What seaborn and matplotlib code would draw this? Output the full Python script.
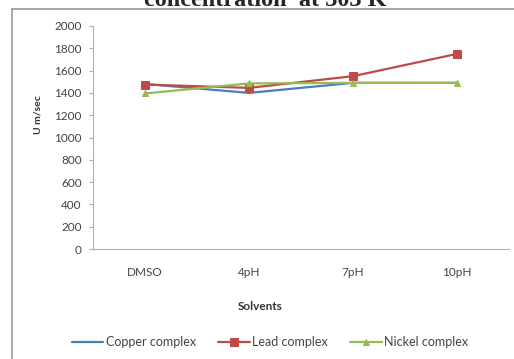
import matplotlib
matplotlib.use("Agg")
import matplotlib.pyplot as plt
from matplotlib.lines import Line2D
import seaborn as sns
import pandas as pd

solvents = ["DMSO", "4pH", "7pH", "10pH"]
copper = [1480, 1400, 1490, 1490]
lead = [1475, 1445, 1550, 1750]
nickel = [1395, 1485, 1490, 1490]
series_names = ["Copper complex", "Lead complex", "Nickel complex"]
yticks = [0, 200, 400, 600, 800, 1000, 1200, 1400, 1600, 1800, 2000]

sns.set_style("white")
plt.rcParams["font.family"] = ["Lato", "DejaVu Sans"]

W, H = 514, 359
fig = plt.figure(figsize=(W / 100, H / 100), dpi=100)
ax = fig.add_axes([93 / W, 1 - 249 / H, 416 / W, 223 / H])

styles = [
    ("#4a7ebb", None, 0),
    ("#be4b48", "s", 5.5),
    ("#98b954", "^", 4),
]
for name, values, (color, marker, msize) in zip(series_names, [copper, lead, nickel], styles):
    d = pd.DataFrame({"Solvents": solvents, "U": values})
    sns.lineplot(data=d, x="Solvents", y="U", color=color, marker=marker,
                 markersize=msize, markeredgecolor=color, linewidth=1.6,
                 ax=ax, sort=False, label=name)

ax.set_xlim(-0.5, 3.5)
ax.set_ylim(0, 2000)
ax.set_yticks(yticks)
ax.set_yticklabels([str(v) for v in yticks], fontsize=8.5, color="#444444")
ax.set_xticks(range(len(solvents)))
ax.set_xticklabels(solvents, fontsize=8.5, color="#444444")
ax.set_xticks([0.5, 1.5, 2.5, 3.5], minor=True)
ax.tick_params(axis="x", which="major", length=0, pad=13)
ax.tick_params(axis="x", which="minor", length=3, color="#b0b0b0", direction="out")
ax.tick_params(axis="y", length=3, color="#b0b0b0", direction="out", pad=5, left=True)
for side in ["top", "right"]:
    ax.spines[side].set_visible(False)
for side in ["left", "bottom"]:
    ax.spines[side].set_color("#b0b0b0")
    ax.spines[side].set_linewidth(0.8)

ax.set_xlabel("Solvents", fontsize=8.5, fontweight="bold", color="#333333")
ax.set_ylabel("U m/sec", fontsize=7.5, fontweight="bold", color="#333333")
ax.xaxis.set_label_coords(260 / W, 1 - 307 / H, transform=fig.transFigure)
ax.xaxis.label.set_va("center")
ax.yaxis.set_label_coords(38 / W, 1 - 115 / H, transform=fig.transFigure)
ax.yaxis.label.set_va("center")

handles, labels = ax.get_legend_handles_labels()
ax.legend(handles, labels, loc="center", bbox_to_anchor=(270 / W, 1 - 342 / H),
          bbox_transform=fig.transFigure, ncol=3, frameon=False, fontsize=9,
          handlelength=2.5, handletextpad=0.2, columnspacing=1.8, labelcolor="#444444")

# Outer chart frame (top and left edges; the rest runs off the canvas)
frame_x, frame_y = 12 / W, 1 - 8.5 / H
fig.add_artist(Line2D([frame_x, 1.0], [frame_y, frame_y], transform=fig.transFigure,
                      color="#9a9a9a", linewidth=1.2))
fig.add_artist(Line2D([frame_x, frame_x], [0.0, frame_y], transform=fig.transFigure,
                      color="#9a9a9a", linewidth=1.2))

fig.text(265 / W, 1 - 6 / H, "concentration  at 303 K", ha="center", va="baseline",
         fontsize=17.5, fontweight="bold", family="Liberation Serif")

fig.savefig("out.png", dpi=100)
